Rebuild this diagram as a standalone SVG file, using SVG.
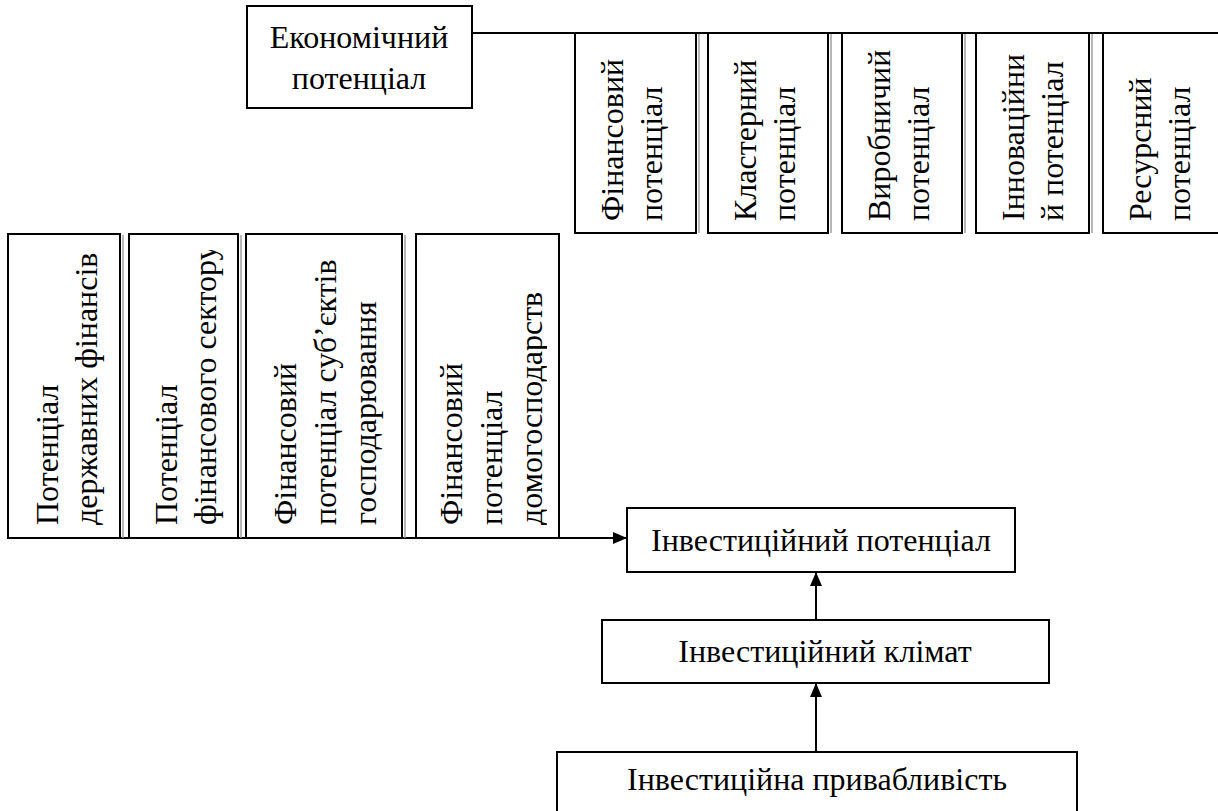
<svg xmlns="http://www.w3.org/2000/svg" width="1218" height="811" viewBox="0 0 1218 811">
<style>
.box{fill:#fff;stroke:#000;stroke-width:2}
.sh{stroke:#a0a0a0;stroke-width:1.5}
text{font-family:'Liberation Serif','Times New Roman',serif;font-size:32px;fill:#000}
.c{text-anchor:middle}
.ln{stroke:#000;stroke-width:2;fill:none}
</style>
<defs>
<marker id="a" viewBox="0 0 14 12" refX="14" refY="6" markerWidth="14" markerHeight="12" markerUnits="userSpaceOnUse" orient="auto">
<path d="M0,0 L14,6 L0,12 z" fill="#000"/>
</marker>
<clipPath id="clip2"><rect x="129" y="250" width="110" height="290"/></clipPath>
<clipPath id="clip4"><rect x="416" y="234" width="131" height="305"/></clipPath>
</defs>
<rect width="1218" height="811" fill="#fff"/>

<g id="connectors">
<path class="ln" d="M472,33 H1218"/>
<path class="ln" d="M8,538 H627" marker-end="url(#a)"/>
<path class="ln" d="M816,620 V572" marker-end="url(#a)"/>
<path class="ln" d="M816,752 V683" marker-end="url(#a)"/>
</g>

<g id="econ">
<rect class="box" x="247" y="6" width="225" height="102"/>
<text class="c" x="359" y="48">Економічний</text>
<text class="c" x="359" y="89">потенціал</text>
</g>

<g id="fin-pot">
<rect class="box" x="575" y="33" width="121" height="200"/>
<line class="sh" x1="699" y1="34" x2="699" y2="233"/>
<text transform="translate(623,221) rotate(-90)">Фінансовий</text>
<text transform="translate(662,221) rotate(-90)">потенціал</text>
</g>
<g id="klast-pot">
<rect class="box" x="708" y="33" width="120" height="200"/>
<line class="sh" x1="831" y1="34" x2="831" y2="233"/>
<text transform="translate(756,221) rotate(-90)">Кластерний</text>
<text transform="translate(795,221) rotate(-90)">потенціал</text>
</g>
<g id="vyrob-pot">
<rect class="box" x="842" y="33" width="120" height="200"/>
<line class="sh" x1="965" y1="34" x2="965" y2="233"/>
<text transform="translate(890,221) rotate(-90)">Виробничий</text>
<text transform="translate(929,221) rotate(-90)">потенціал</text>
</g>
<g id="innov-pot">
<rect class="box" x="976" y="33" width="113" height="200"/>
<line class="sh" x1="1092" y1="34" x2="1092" y2="233"/>
<text transform="translate(1024,221) rotate(-90)">Інноваційни</text>
<text transform="translate(1063,221) rotate(-90)">й потенціал</text>
</g>
<g id="resurs-pot">
<rect class="box" x="1103" y="33" width="120" height="200"/>
<text transform="translate(1151,221) rotate(-90)">Ресурсний</text>
<text transform="translate(1190,221) rotate(-90)">потенціал</text>
</g>

<g id="derzh-fin">
<rect class="box" x="8" y="234" width="112" height="304"/>
<line class="sh" x1="123" y1="235" x2="123" y2="538"/>
<text transform="translate(58,525) rotate(-90)">Потенціал</text>
<text transform="translate(97,525) rotate(-90)">державних фінансів</text>
</g>
<g id="fin-sector">
<rect class="box" x="129" y="234" width="109" height="304"/>
<line class="sh" x1="241" y1="235" x2="241" y2="538"/>
<g clip-path="url(#clip2)">
<text transform="translate(177,525) rotate(-90)">Потенціал</text>
<text transform="translate(216,525) rotate(-90)">фінансового сектору</text>
</g>
</g>
<g id="fin-subj">
<rect class="box" x="246" y="234" width="156" height="304"/>
<line class="sh" x1="405" y1="235" x2="405" y2="538"/>
<text transform="translate(296,525) rotate(-90)">Фінансовий</text>
<text transform="translate(336,525) rotate(-90)">потенціал суб’єктів</text>
<text transform="translate(376,525) rotate(-90)">господарювання</text>
</g>
<g id="fin-dom">
<rect class="box" x="416" y="234" width="143" height="304"/>
<g clip-path="url(#clip4)">
<text transform="translate(462,525) rotate(-90)">Фінансовий</text>
<text transform="translate(502,525) rotate(-90)">потенціал</text>
<text transform="translate(542,525) rotate(-90)">домогосподарств</text>
</g>
</g>

<g id="inv-pot">
<rect class="box" x="627" y="508" width="388" height="64"/>
<text class="c" x="821" y="551">Інвестиційний потенціал</text>
</g>
<g id="inv-klimat">
<rect class="box" x="602" y="620" width="447" height="63"/>
<text class="c" x="825" y="662">Інвестиційний клімат</text>
</g>
<g id="inv-pryv">
<rect class="box" x="557" y="752" width="520" height="70"/>
<text class="c" x="817" y="790">Інвестиційна привабливість</text>
</g>
</svg>
